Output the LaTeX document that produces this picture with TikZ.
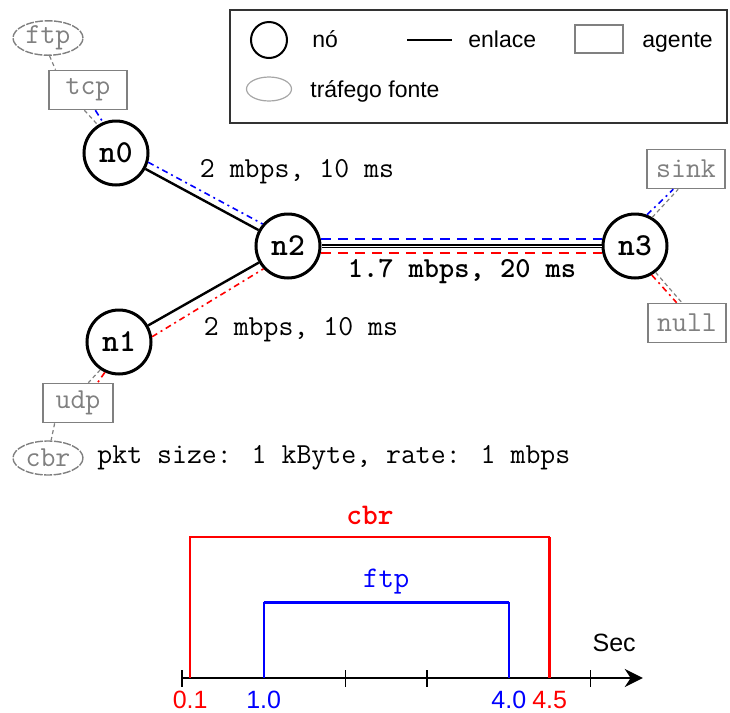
\documentclass[tikz,border=0pt]{standalone}
\usepackage{fontspec}
\setsansfont{Liberation Sans}
\usetikzlibrary{shapes.geometric,arrows.meta}
\begin{document}
\begin{tikzpicture}[x=0.5pt,y=-0.5pt,
    netnode/.style={circle,draw,line width=1.5pt,minimum size=32pt,inner sep=0pt,font=\fontsize{16}{18}\selectfont\ttfamily\bfseries},
    agentbox/.style={rectangle,draw=gray,line width=0.8pt,minimum width=39pt,minimum height=19.5pt,inner sep=0pt,text=gray,font=\fontsize{14.5}{16}\selectfont\ttfamily},
    srcnode/.style={ellipse,draw=gray,line width=0.7pt,dash pattern=on 4pt off 0.7pt,minimum width=35pt,minimum height=17pt,inner sep=0pt,text=gray,font=\fontsize{14.5}{16}\selectfont\ttfamily},
    linklabel/.style={font=\fontsize{14.5}{16}\selectfont\ttfamily},
    link/.style={line width=1.2pt},
    attach/.style={gray,line width=0.6pt,dash pattern=on 2pt off 1.5pt},
    tcpflow/.style={blue,line width=0.8pt,dash pattern=on 3pt off 2pt on 1pt off 2pt},
    udpflow/.style={red,line width=0.8pt,dash pattern=on 3pt off 2pt on 1pt off 2pt},
    tcpdash/.style={blue,line width=0.8pt,dash pattern=on 5pt off 3.5pt},
    udpdash/.style={red,line width=0.8pt,dash pattern=on 5pt off 3.5pt},
    legendtext/.style={font=\fontsize{11.5}{13}\selectfont\sffamily,anchor=base west,inner sep=0pt},
    ticklabel/.style={font=\fontsize{12.5}{14}\selectfont\sffamily}]
    \useasboundingbox (0,0) rectangle (730,713);

    \draw[line width=0.6pt,black!80] (230,10) rectangle (727,123);
    \node[circle,draw,line width=1pt,minimum size=18pt,inner sep=0pt] (lgnode) at (269,40) {};
    \node[legendtext] (lgnodetext) at (312,47) {nó};
    \coordinate (lglinea) at (407,40);
    \coordinate (lglineb) at (452,40);
    \draw[line width=0.6pt] (lglinea) -- (lglineb);
    \node[legendtext] (lglinktext) at (468,47) {enlace};
    \node[rectangle,draw=gray,line width=0.8pt,minimum width=24pt,minimum height=14pt] (lgagent) at (599,39) {};
    \node[legendtext] (lgagenttext) at (642,47) {agente};
    \node[ellipse,draw=gray!70,line width=0.6pt,minimum width=22.5pt,minimum height=12pt,inner sep=0pt] (lgsrc) at (269,89) {};
    \node[legendtext] (lgsrctext) at (310,97) {tráfego fonte};

    \node[netnode] (n0) at (116,153) {n0};
    \node[netnode] (n2) at (288,246) {n2};
    \node[netnode] (n1) at (119,342) {n1};
    \node[netnode] (n3) at (635,246) {n3};
    \node[agentbox] (tcp) at (88,90) {tcp};
    \node[agentbox,minimum width=35pt] (udp) at (78,403) {udp};
    \node[agentbox] (sink) at (686,169) {sink};
    \node[agentbox] (null) at (687,323) {null};
    \node[srcnode] (ftp) at (48,38) {ftp};
    \node[srcnode] (cbr) at (48,458) {cbr};

    \draw[link] (n0) -- (n2);
    \draw[link] (n1) -- (n2);
    \draw[line width=0.9pt,double,double distance=0.4pt] (n2) -- (n3);
    \draw[tcpflow] (n0.-16) -- (n2.139);
    \draw[udpflow] (n1.9) -- (n2.223);
    \draw[tcpdash] (n2.12) -- (n3.168);
    \draw[udpdash] (n2.-12) -- (n3.-168);

    \draw[attach] (ftp.-85) -- (tcp.148);
    \draw[attach] (tcp.-100) -- (n0.123);
    \draw[tcpflow] (tcp.-70) -- (n0.113);
    \draw[attach] (n3.59) -- (sink.249);
    \draw[tcpflow] (n3.69) -- (sink.238);
    \draw[attach] (n3.-52) -- (null.104);
    \draw[udpflow] (n3.-60) -- (null.117);
    \draw[attach] (n1.236) -- (udp.63);
    \draw[udpflow] (n1.245) -- (udp.46);
    \draw[attach] (udp.221) -- (cbr.80);

    \node[linklabel] (lbl02) at (297,172) {2 mbps, 10 ms};
    \node[linklabel] (lbl12) at (301,330) {2 mbps, 10 ms};
    \node[linklabel,font=\fontsize{14.5}{16}\selectfont\ttfamily\bfseries] (lbl23) at (462,272) {1.7 mbps, 20 ms};
    \node[linklabel,anchor=west,inner sep=0pt] (pktinfo) at (97,458) {pkt size: 1 kByte, rate: 1 mbps};

    \begin{scope}[shift={(182,678)},x=40.85pt]
        \draw[line width=0.8pt,-{Stealth[length=9pt,width=9pt]}] (0,0) -- (5.64,0);
        \foreach \t in {0,2,3,5} \draw[line width=0.8pt] (\t,-8) -- (\t,9);
        \draw[red,line width=0.8pt] (0.1,0) -- (0.1,-141) -- (4.5,-141);
        \draw[red,line width=1.5pt] (4.5,-141) -- (4.5,0);
        \draw[blue,line width=0.8pt] (1,0) -- (1,-76);
        \draw[blue,line width=0.8pt] (4,-76) -- (4,0);
        \draw[blue,line width=1.5pt] (1,-76) -- (4,-76);
        \node[font=\fontsize{15}{17}\selectfont\ttfamily\bfseries,text=red] (cbrtime) at (2.3,-163) {cbr};
        \node[font=\fontsize{15}{17}\selectfont\ttfamily,text=blue] (ftptime) at (2.5,-96) {ftp};
        \node[ticklabel] (sec) at (5.29,-35) {Sec};
        \node[ticklabel,text=red] (t01) at (0.1,22) {0.1};
        \node[ticklabel,text=blue] (t10) at (1,22) {1.0};
        \node[ticklabel,text=blue] (t40) at (4,22) {4.0};
        \node[ticklabel,text=red] (t45) at (4.5,22) {4.5};
    \end{scope}
\end{tikzpicture}
\end{document}
